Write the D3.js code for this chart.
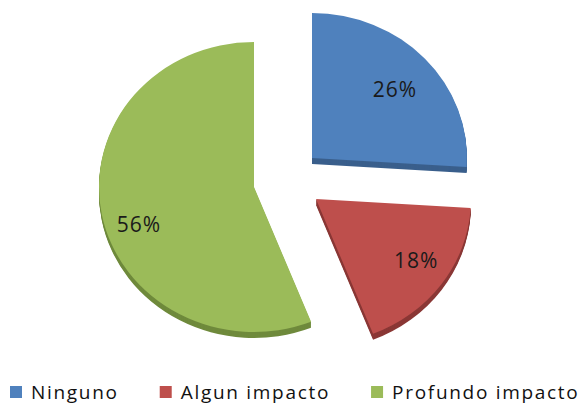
<!DOCTYPE html>
<html>
<head>
<meta charset="utf-8">
<script src="https://cdn.jsdelivr.net/npm/d3@7"></script>
<style>
  html, body { margin: 0; padding: 0; background: #ffffff; }
  svg { display: block; }
</style>
</head>
<body>
<svg id="chart" width="587" height="407"></svg>
<script>
// Chart data
const categories = ["Ninguno", "Algun impacto", "Profundo impacto"];
const shares = [26, 18, 56];
const valueLabels = ["26%", "18%", "56%"];

// Styling
const topColors  = ["#4F81BD", "#BE4F4C", "#9BBB59"];
const sideColors = ["#3A5F8C", "#8A3735", "#6F8A3C"];
const explodeOffset = [[25, -22], [29, 19], [-33, 7]];   // px shift of each exploded slice
const labelPlacement = [[1.6, 0.716], [-3, 0.77], [-8, 0.785]]; // [angle tweak (deg), radius fraction]

const W = 587, H = 407;
const rx = 155, ry = 145, depth = 6;
const cx = 287, cy = 180;
const squash = ry / rx;

const svg = d3.select("#chart");

const pieData = d3.pie().sort(null).value(d => d)(shares);
const arc = d3.arc().innerRadius(0).outerRadius(rx);

const plot = svg.append("g").attr("transform", `translate(${cx},${cy})`);

const slices = plot.selectAll("g.slice")
  .data(pieData)
  .join("g")
  .attr("class", "slice")
  .attr("transform", (d, i) => `translate(${explodeOffset[i][0]},${explodeOffset[i][1]})`);

// extruded side walls, then the top face
slices.each(function (d, i) {
  const s = d3.select(this);
  for (let k = depth; k >= 1; k--) {
    s.append("path")
      .attr("d", arc(d))
      .attr("transform", `translate(0,${k}) scale(1,${squash})`)
      .attr("fill", sideColors[i]);
  }
  s.append("path")
    .attr("d", arc(d))
    .attr("transform", `scale(1,${squash})`)
    .attr("fill", topColors[i]);
});

// percentage labels
slices.append("text")
  .attr("x", (d, i) => {
    const a = (d.startAngle + d.endAngle) / 2 + labelPlacement[i][0] * Math.PI / 180;
    return Math.sin(a) * rx * labelPlacement[i][1];
  })
  .attr("y", (d, i) => {
    const a = (d.startAngle + d.endAngle) / 2 + labelPlacement[i][0] * Math.PI / 180;
    return -Math.cos(a) * rx * labelPlacement[i][1] * squash;
  })
  .attr("text-anchor", "middle")
  .attr("dominant-baseline", "central")
  .attr("font-family", "'Open Sans', sans-serif")
  .attr("font-size", 21)
  .attr("letter-spacing", 1)
  .attr("fill", "#1a1a1a")
  .text((d, i) => valueLabels[i]);

// legend
const legend = svg.append("g").attr("class", "legend");
let lx = 10;
const ly = 392;
categories.forEach((c, i) => {
  legend.append("rect")
    .attr("x", lx).attr("y", ly - 6)
    .attr("width", 12).attr("height", 12)
    .attr("fill", topColors[i]);
  const t = legend.append("text")
    .attr("x", lx + 21).attr("y", ly)
    .attr("dominant-baseline", "central")
    .attr("font-family", "'Open Sans', sans-serif")
    .attr("font-size", 19)
    .attr("letter-spacing", 1.7)
    .attr("fill", "#111111")
    .text(c);
  lx += 21 + t.node().getComputedTextLength() + 41;
});
</script>
</body>
</html>
